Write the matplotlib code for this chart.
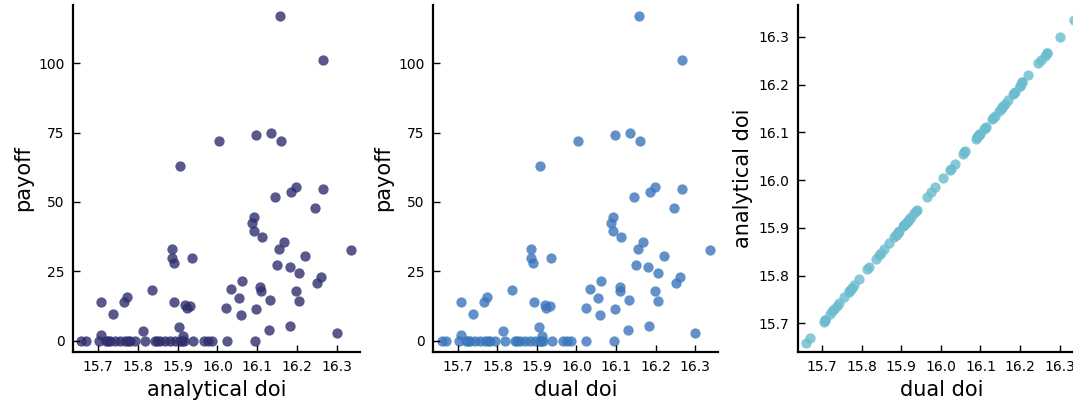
import matplotlib
matplotlib.use("Agg")
import matplotlib.pyplot as plt

plt.rcParams['font.family'] = ['DejaVu Sans']

# payoff > 0 runs
analytical_doi = [
    16.156, 16.266, 16.004, 16.096, 16.135, 16.160, 15.906, 16.198, 16.185, 16.266,
    16.145, 16.245, 16.091, 16.087, 16.091, 16.112, 16.168, 16.154, 16.220, 16.336,
    16.150, 16.181, 16.205, 16.261, 16.251, 16.198, 16.205, 16.108, 16.110, 16.131,
    16.097, 16.129, 16.183, 16.300, 16.061, 16.034, 16.054, 16.022, 16.058, 15.885,
    15.885, 15.890, 15.935, 15.891, 15.919, 15.923, 15.931, 15.904, 15.913, 15.835,
    15.813, 15.707, 15.707, 15.737, 15.766, 15.772,
    # payoff == 0 runs
    15.658, 15.669, 15.703, 15.719, 15.725, 15.730, 15.742, 15.755, 15.767, 15.775,
    15.780, 15.793, 15.818, 15.843, 15.848, 15.856, 15.868, 15.881, 15.893, 15.906,
    15.910, 15.915, 15.938, 15.965, 15.975, 15.985, 16.024, 16.095,
]
dual_doi = [
    16.157, 16.267, 16.005, 16.097, 16.136, 16.161, 15.907, 16.199, 16.186, 16.267,
    16.146, 16.246, 16.092, 16.088, 16.092, 16.113, 16.169, 16.155, 16.221, 16.337,
    16.151, 16.182, 16.206, 16.262, 16.252, 16.199, 16.206, 16.109, 16.111, 16.132,
    16.098, 16.130, 16.184, 16.301, 16.062, 16.035, 16.055, 16.023, 16.059, 15.886,
    15.886, 15.891, 15.936, 15.892, 15.920, 15.924, 15.932, 15.905, 15.914, 15.836,
    15.814, 15.708, 15.708, 15.738, 15.767, 15.773,
    15.659, 15.670, 15.704, 15.720, 15.726, 15.731, 15.743, 15.756, 15.768, 15.776,
    15.781, 15.794, 15.819, 15.844, 15.849, 15.857, 15.869, 15.882, 15.894, 15.907,
    15.911, 15.916, 15.939, 15.966, 15.976, 15.986, 16.025, 16.096,
]
payoff = [
    117.2, 101.1, 71.9, 74.0, 75.0, 71.9, 62.9, 55.4, 53.5, 54.7,
    51.7, 47.9, 44.5, 42.3, 39.7, 37.5, 35.7, 32.9, 30.5, 32.6,
    27.4, 26.5, 24.5, 22.8, 20.7, 18.0, 14.4, 19.2, 17.9, 14.7,
    11.4, 3.9, 5.1, 2.7, 21.4, 18.5, 15.4, 11.7, 9.3, 33.2,
    29.8, 27.9, 29.9, 13.8, 12.8, 11.9, 12.6, 4.8, 1.5, 18.4,
    3.3, 13.8, 2.0, 9.6, 13.8, 15.6,
    0, 0, 0, 0, 0, 0, 0, 0, 0, 0,
    0, 0, 0, 0, 0, 0, 0, 0, 0, 0,
    0, 0, 0, 0, 0, 0, 0, 0,
]

doi_ticks = [15.7, 15.8, 15.9, 16.0, 16.1, 16.2, 16.3]
payoff_ticks = [0, 25, 50, 75, 100]

W, H = 1073, 403
fig = plt.figure(figsize=(W / 100, H / 100), dpi=100)


def make_axes(x0, x1):
    return fig.add_axes([x0 / W, (H - 352) / H, (x1 - x0) / W, 347 / H])


def style(ax):
    for s in ['top', 'right']:
        ax.spines[s].set_visible(False)
    for s in ['left', 'bottom']:
        ax.spines[s].set_linewidth(1.6)
    ax.tick_params(direction='in', length=5, width=1, labelsize=10, pad=6)


ax1 = make_axes(73, 360)
ax1.scatter(analytical_doi, payoff, s=55, color='#2f2e6e', alpha=0.8, linewidths=0)
ax1.set_xlabel('analytical doi', fontsize=15)
ax1.set_ylabel('payoff', fontsize=15)

ax2 = make_axes(433, 718)
ax2.scatter(dual_doi, payoff, s=55, color='#3a76bb', alpha=0.8, linewidths=0)
ax2.set_xlabel('dual doi', fontsize=15)
ax2.set_ylabel('payoff', fontsize=15)

for ax in (ax1, ax2):
    ax.set_xlim(15.637, 16.358)
    ax.set_ylim(-4.1, 121)
    ax.set_xticks(doi_ticks)
    ax.set_yticks(payoff_ticks)
    style(ax)

ax3 = make_axes(798, 1085)
ax3.scatter(dual_doi, analytical_doi, s=55, color='#6bbccf', alpha=0.8, linewidths=0)
ax3.set_xlim(15.639, 16.364)
ax3.set_ylim(15.64, 16.367)
ax3.set_xticks(doi_ticks)
ax3.set_yticks(doi_ticks)
ax3.set_xlabel('dual doi', fontsize=15)
ax3.set_ylabel('analytical doi', fontsize=15)
style(ax3)

fig.savefig('out.png', dpi=100)
